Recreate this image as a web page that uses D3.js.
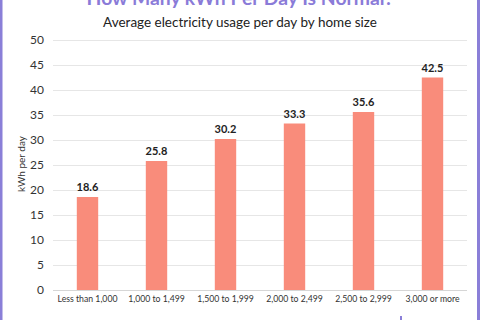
<!DOCTYPE html>
<html>
<head>
<meta charset="utf-8">
<script src="https://cdn.jsdelivr.net/npm/d3@7"></script>
<style>
  html, body { margin: 0; padding: 0; background: #fff; }
  svg { display: block; }
  text { font-family: "Lato", "Noto Sans", sans-serif; }
</style>
</head>
<body>
<script>
const categories = ["Less than 1,000", "1,000 to 1,499", "1,500 to 1,999", "2,000 to 2,499", "2,500 to 2,999", "3,000 or more"];
const values = [18.6, 25.8, 30.2, 33.3, 35.6, 42.5];
const yTicks = [0, 5, 10, 15, 20, 25, 30, 35, 40, 45, 50];
const title = "How Many kWh Per Day Is Normal?";
const subtitle = "Average electricity usage per day by home size";
const yLabel = "kWh per day";

const W = 480, H = 320;
const svg = d3.select("body").append("svg").attr("width", W).attr("height", H);

const x = d3.scaleBand().domain(categories).range([53, 467]).paddingInner(0.69).paddingOuter(0.345);
const y = d3.scaleLinear().domain([0, 50]).range([290, 40]);

// border
svg.append("rect").attr("x", 0).attr("y", 0).attr("width", 2.5).attr("height", H).attr("fill", "#8a7fd8");
svg.append("rect").attr("x", 477).attr("y", 0).attr("width", 3).attr("height", H).attr("fill", "#8a7fd8");
svg.append("rect").attr("x", 400).attr("y", 316).attr("width", 2).attr("height", 4).attr("fill", "#8a7fd8");

function fit(sel, target) {
  const w = sel.node().getComputedTextLength();
  const fs = parseFloat(sel.attr("font-size"));
  sel.attr("font-size", fs * target / w);
  return fs * target / w;
}

const t = svg.append("text").attr("x", 240).attr("y", 5).attr("text-anchor", "middle")
  .attr("font-size", 22).attr("font-weight", 700).attr("fill", "#8a7bd8").text(title);
fit(t, 307);
const st = svg.append("text").attr("x", 240).attr("y", 27).attr("text-anchor", "middle")
  .attr("font-size", 15).attr("fill", "#222").text(subtitle);
fit(st, 274);

// grid
const grid = svg.append("g");
grid.selectAll("line").data(yTicks).join("line")
  .attr("x1", 53).attr("x2", 467)
  .attr("y1", d => y(d) + 0.5).attr("y2", d => y(d) + 0.5)
  .attr("stroke", d => d === 0 ? "#d6d6d6" : "#e6e6e6").attr("stroke-width", 1);

// y axis
const yAxis = svg.append("g").attr("transform", "translate(44,0)")
  .call(d3.axisLeft(y).tickValues(yTicks).tickSize(0).tickPadding(0));
yAxis.select(".domain").remove();
yAxis.selectAll("text").attr("font-size", 12).attr("fill", "#333").attr("font-family", "Lato, 'Noto Sans', sans-serif");

// x axis
const xAxis = svg.append("g").attr("transform", "translate(0,296)")
  .call(d3.axisBottom(x).tickSize(0).tickPadding(0));
xAxis.select(".domain").remove();
const xt = xAxis.selectAll("text").attr("font-size", 10).attr("fill", "#333").attr("font-family", "Lato, 'Noto Sans', sans-serif");
const xfs = fit(d3.select(xt.nodes()[0]), 60);
xt.attr("font-size", xfs);

// bars
svg.append("g").selectAll("rect").data(values).join("rect")
  .attr("x", (d, i) => x(categories[i]))
  .attr("width", x.bandwidth())
  .attr("y", d => y(d))
  .attr("height", d => y(0) - y(d))
  .attr("fill", "#f98c7b");

svg.append("g").selectAll("text").data(values).join("text")
  .attr("x", (d, i) => x(categories[i]) + x.bandwidth() / 2)
  .attr("y", d => y(d) - 6)
  .attr("text-anchor", "middle")
  .attr("font-size", 11).attr("font-weight", 700).attr("fill", "#222")
  .text(d => d.toFixed(1));

svg.append("text").attr("transform", "translate(25,164) rotate(-90)")
  .attr("text-anchor", "middle").attr("font-size", 10).attr("fill", "#333").text(yLabel);
</script>
</body>
</html>
